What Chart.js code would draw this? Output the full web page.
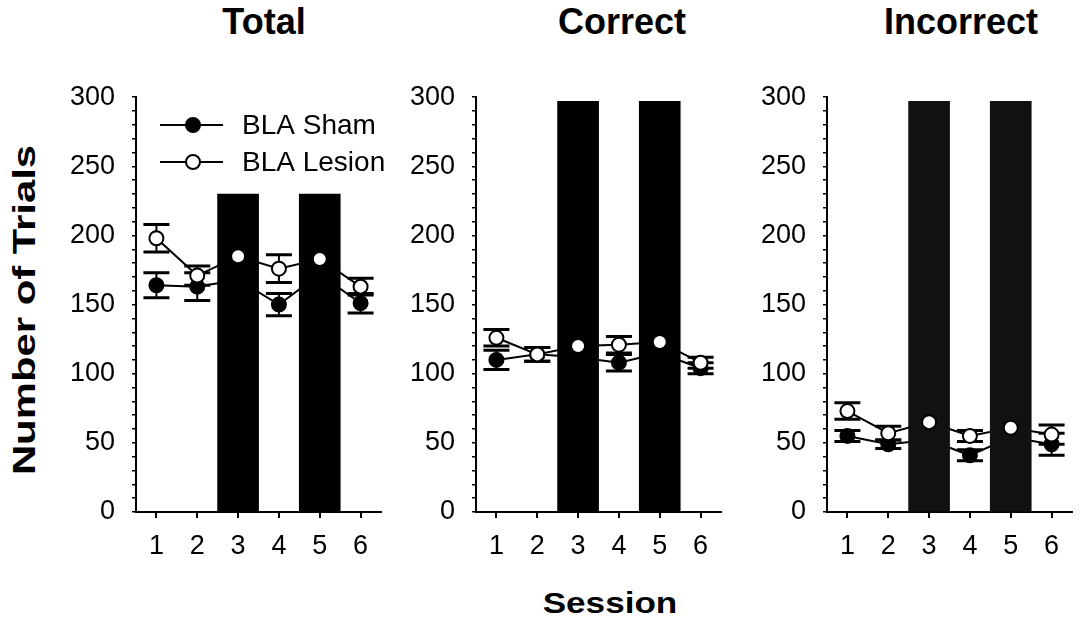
<!DOCTYPE html>
<html lang="en">
<head>
  <meta charset="UTF-8" />
  <title>Number of Trials per Session</title>
  <script src="https://cdn.jsdelivr.net/npm/chart.js"></script>
  <style>
    body {
      margin: 0;
      background: #fff;
      font-family: 'Liberation Sans', Arial, sans-serif;
    }
    #wrap {
      position: relative;
      width: 1086px;
      height: 623px;
      overflow: hidden;
    }
    .panel {
      position: absolute;
      top: 64px;
      width: 330px;
      height: 501px;
    }
    .title {
      position: absolute;
      top: 0;
      font-size: 36px;
      line-height: 44px;
      font-weight: bold;
      color: #000;
      transform: translateX(-50%);
      white-space: nowrap;
    }
    #ylabel {
      position: absolute;
      left: 24px;
      top: 310px;
      font-size: 31px;
      line-height: 31px;
      font-weight: bold;
      white-space: nowrap;
      transform: translate(-50%, -50%) rotate(-90deg) scaleX(1.35);
    }
    #xlabel {
      position: absolute;
      left: 610px;
      top: 586px;
      font-size: 30px;
      line-height: 34px;
      font-weight: bold;
      white-space: nowrap;
      transform: translateX(-50%) scaleX(1.17);
    }
  </style>
</head>
<body>
<div id="wrap">
  <div class="title" style="left:264px">Total</div>
  <div class="title" style="left:622px">Correct</div>
  <div class="title" style="left:961px">Incorrect</div>

  <div class="panel" style="left:60px"><canvas id="totalChart"></canvas></div>
  <div class="panel" style="left:400px"><canvas id="correctChart"></canvas></div>
  <div class="panel" style="left:751px"><canvas id="incorrectChart"></canvas></div>

  <div id="ylabel">Number of Trials</div>
  <div id="xlabel">Session</div>
</div>

<script>
  // ---- data ----
  const sessions = [1, 2, 3, 4, 5, 6];
  const barSessions = [3, 5];
  const yTickLabels = [0, 50, 100, 150, 200, 250, 300];

  const totalSham = [164, 163, 168, 150, 172, 151];
  const totalShamErr = [9, 10, null, 8, null, 7];
  const totalLesion = [198, 171, 185, 176, 183, 163];
  const totalLesionErr = [10, 7, null, 10, null, 6];
  const totalBar = 230;

  const correctSham = [110, 114, 112, 108, 115, 104];
  const correctShamErr = [7, 5, null, 6, null, 4];
  const correctLesion = [126, 114, 120, 121, 123, 108];
  const correctLesionErr = [6, 5, null, 6, null, 4];
  const correctBar = 297;

  const incorrectSham = [55, 49, 52, 41, 54, 49];
  const incorrectShamErr = [4, 3, null, 4, null, 8];
  const incorrectLesion = [73, 57, 65, 55, 61, 56];
  const incorrectLesionErr = [6, 5, null, 4, null, 7];
  const incorrectBar = 297;

  Chart.defaults.font.family = "'Liberation Sans', Arial, sans-serif";
  Chart.defaults.color = '#000';

  const toPoints = vals => sessions.map((s, i) => ({ x: s, y: vals[i] }));

  // error bars go under everything, so the bars hide the ones at sessions 3 and 5
  const errorBars = {
    id: 'errorBars',
    beforeDatasetsDraw(chart, args, opts) {
      const { ctx, scales: { x, y } } = chart;
      ctx.save();
      ctx.strokeStyle = '#000';
      opts.sets.forEach(set => {
        set.values.forEach((v, i) => {
          const e = set.errors[i];
          if (e == null) return;
          const px = x.getPixelForValue(sessions[i]);
          const top = y.getPixelForValue(v + e);
          const bot = y.getPixelForValue(v - e);
          ctx.lineWidth = 2;
          ctx.beginPath();
          ctx.moveTo(px, top);
          ctx.lineTo(px, bot);
          ctx.stroke();
          ctx.lineWidth = 3;
          ctx.beginPath();
          ctx.moveTo(px - 13, top); ctx.lineTo(px + 13, top);
          ctx.moveTo(px - 13, bot); ctx.lineTo(px + 13, bot);
          ctx.stroke();
        });
      });
      ctx.restore();
    }
  };

  // line + marker legend, like the original figure
  const lineLegend = {
    id: 'lineLegend',
    afterDraw(chart, args, opts) {
      if (!opts.show) return;
      const ctx = chart.ctx;
      const rows = [
        { label: 'BLA Sham', fill: '#000', y: 61 },
        { label: 'BLA Lesion', fill: '#fff', y: 98 }
      ];
      ctx.save();
      rows.forEach(r => {
        ctx.strokeStyle = '#000';
        ctx.lineWidth = 2;
        ctx.beginPath();
        ctx.moveTo(100, r.y);
        ctx.lineTo(163, r.y);
        ctx.stroke();
        ctx.beginPath();
        ctx.arc(133, r.y, 7, 0, Math.PI * 2);
        ctx.fillStyle = r.fill;
        ctx.fill();
        ctx.stroke();
        ctx.fillStyle = '#000';
        ctx.font = "28px 'Liberation Sans', Arial, sans-serif";
        ctx.textBaseline = 'middle';
        ctx.fillText(r.label, 182, r.y + 1);
      });
      ctx.restore();
    }
  };

  function makePanel(id, sham, shamErr, lesion, lesionErr, barHeight, barColor, showLegend) {
    return new Chart(document.getElementById(id), {
      type: 'line',
      data: {
        datasets: [
          {
            label: 'BLA Sham',
            data: toPoints(sham),
            borderColor: '#000',
            borderWidth: 2,
            pointRadius: 7,
            pointBackgroundColor: '#000',
            pointBorderColor: '#000',
            pointBorderWidth: 2,
            order: 3
          },
          {
            label: 'BLA Lesion',
            data: toPoints(lesion),
            borderColor: '#000',
            borderWidth: 2,
            pointRadius: 0,
            order: 3
          },
          {
            type: 'bar',
            label: 'bar',
            data: barSessions.map(s => ({ x: s, y: barHeight })),
            backgroundColor: barColor,
            borderWidth: 0,
            barThickness: 41,
            order: 2
          },
          {
            label: 'BLA Lesion markers',
            data: toPoints(lesion),
            showLine: false,
            pointRadius: 7,
            pointBackgroundColor: '#fff',
            pointBorderColor: '#000',
            pointBorderWidth: 2,
            order: 1
          }
        ]
      },
      options: {
        responsive: true,
        maintainAspectRatio: false,
        animation: false,
        layout: { padding: 0 },
        plugins: {
          legend: { display: false },
          tooltip: { enabled: false },
          errorBars: {
            sets: [
              { values: sham, errors: shamErr },
              { values: lesion, errors: lesionErr }
            ]
          },
          lineLegend: { show: showLegend }
        },
        scales: {
          x: {
            type: 'linear',
            min: 0.5,
            max: 6.5,
            offset: false,
            afterBuildTicks: s => { s.ticks = sessions.map(v => ({ value: v })); },
            afterFit: s => { s.height = 53; },
            grid: { drawOnChartArea: false, drawTicks: true, tickLength: 6, color: '#000', lineWidth: 2, offset: false },
            border: { display: true, color: '#000', width: 2 },
            ticks: { font: { size: 27 }, padding: 12, autoSkip: false, maxRotation: 0 }
          },
          y: {
            min: 0,
            max: 300,
            ticks: {
              stepSize: 10,
              autoSkip: false,
              font: { size: 27 },
              padding: 17,
              callback: v => (yTickLabels.includes(v) ? v : '')
            },
            afterFit: s => { s.width = 76; },
            grid: { drawOnChartArea: false, drawTicks: true, tickLength: 4, color: '#000', lineWidth: 1.5 },
            border: { display: true, color: '#000', width: 2 }
          }
        }
      },
      plugins: [errorBars, lineLegend]
    });
  }

  makePanel('totalChart', totalSham, totalShamErr, totalLesion, totalLesionErr, totalBar, '#000', true);
  makePanel('correctChart', correctSham, correctShamErr, correctLesion, correctLesionErr, correctBar, '#000', false);
  makePanel('incorrectChart', incorrectSham, incorrectShamErr, incorrectLesion, incorrectLesionErr, incorrectBar, '#111', false);
</script>
</body>
</html>
